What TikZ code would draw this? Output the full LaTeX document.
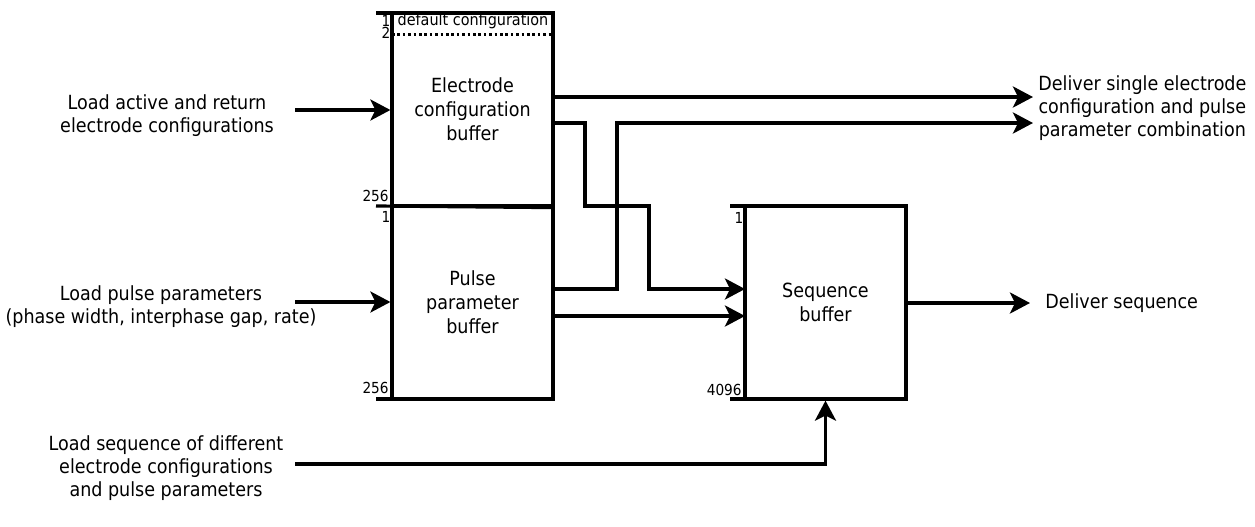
\documentclass[tikz,border=0pt]{standalone}
\usepackage{fontspec}
\setmainfont{DejaVu Sans Condensed}
\usetikzlibrary{arrows.meta}
\begin{document}
\begin{tikzpicture}[x=0.5pt,y=-0.5pt,
  ln/.style={line width=1.6pt},
  arr/.style={ln,-{Stealth[length=10pt,width=10.5pt,inset=2.5pt]}},
  buf/.style={draw,line width=1.6pt,minimum width=80.5pt,minimum height=96.5pt,inner sep=0pt,align=center,font=\fontsize{9.75}{12}\selectfont},
  lbl/.style={align=center,inner sep=0pt,font=\fontsize{9.75}{11.5}\selectfont},
  num/.style={inner sep=0pt,font=\fontsize{7.6}{8}\selectfont}]
\useasboundingbox (0,0) rectangle (1255,526);
% buffers
\node[buf] (ecb) at (472.5,109.5) {Electrode\\configuration\\buffer};
\node[buf] (ppb) at (472.5,302.5) {Pulse\\parameter\\buffer};
\node[buf] (sqb) at (825.5,302.5) {Sequence\\buffer};
% tick lines extending left
\coordinate (t1) at (376,13);
\coordinate (t2) at (376,206);
\coordinate (t3) at (376,399);
\coordinate (t4) at (730,206);
\coordinate (t5) at (730,399);
\draw[ln] (t1) -- (t1 -| ecb.west);
\draw[ln] (t2) -- (ecb.south east);
\draw[ln] (t3) -- (t3 -| ppb.west);
\draw[ln] (t4) -- (t4 -| sqb.west);
\draw[ln] (t5) -- (t5 -| sqb.west);
% dotted line
\coordinate (d1) at (392,34);
\draw[line width=1.5pt,dash pattern=on 1.3pt off 1.4pt] (d1) -- (d1 -| ecb.east);
% numbers
\node[num] (n1) at (386,21) {1};
\node[num] (n2) at (386,33) {2};
\node[num,font=\fontsize{8}{9}\selectfont] (dc) at (473,21) {default configuration};
\node[num,anchor=east] (n256a) at (389,196) {256};
\node[num] (n1b) at (386,217) {1};
\node[num,anchor=east] (n256b) at (389,388) {256};
\node[num] (n1c) at (739,218) {1};
\node[num,anchor=east] (n4096) at (742,390) {4096};
% left texts
\node[lbl] (lt1) at (167,116) {Load active and return\\electrode configurations};
\node[lbl] (lt2) at (161,307) {Load pulse parameters\\(phase width, interphase gap, rate)};
\node[lbl] (lt3) at (166,468) {Load sequence of different\\electrode configurations\\and pulse parameters};
% right texts
\node[lbl,anchor=west] (rt1) at (1038,108) {Deliver single electrode\\configuration and pulse\\parameter combination};
\node[lbl,anchor=west] (rt2) at (1045,303) {Deliver sequence};
% input arrows
\coordinate (i1) at (295,110);
\coordinate (i2) at (295,302);
\coordinate (i3) at (295,464);
\draw[arr] (i1) -- (i1 -| ecb.west);
\draw[arr] (i2) -- (i2 -| ppb.west);
\draw[arr] (i3) -| (sqb.south);
% outputs
\coordinate (o1) at (1033,97);
\coordinate (o2) at (1033,123);
\coordinate (o3) at (1030,303);
\draw[arr] (o1 -| ecb.east) -- (o1);
\draw[arr] (553,123) -- (585,123) -- (585,206) -- (649,206) -- (649,289) -- (745,289);
\draw[arr] (553,289) -- (617,289) -- (617,123) -- (o2);
\draw[arr] (553,316) -- (745,316);
\draw[arr] (o3 -| sqb.east) -- (o3);
\end{tikzpicture}
\end{document}
